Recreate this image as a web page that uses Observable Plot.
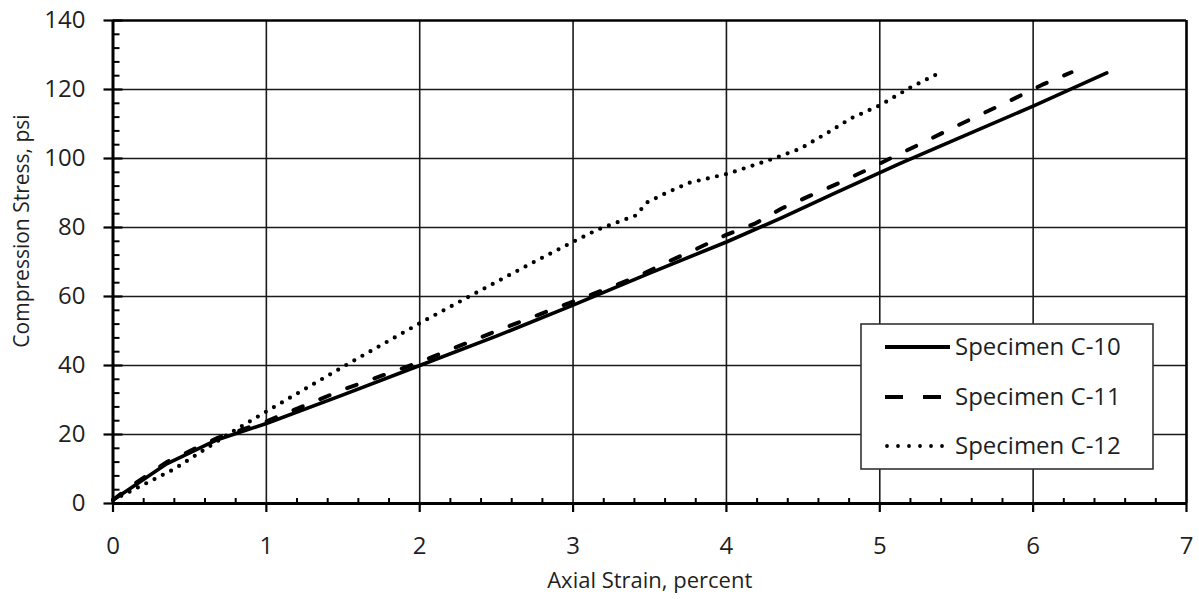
<!DOCTYPE html>
<html>
<head>
<meta charset="utf-8">
<script src="https://cdn.jsdelivr.net/npm/d3@7"></script>
<script src="https://cdn.jsdelivr.net/npm/@observablehq/plot@0.6"></script>
<style>
  html, body { margin: 0; padding: 0; background: white; }
</style>
</head>
<body>
<div id="chart"></div>
<script>
// Series data (axial strain %, compression stress psi)
const c10Strain = [0, 0.1, 0.35, 0.68, 1.0, 1.5, 2.0, 2.5, 3.0, 3.5, 4.0, 4.37, 4.7, 5.13, 5.5, 6.0, 6.48];
const c10Stress = [1, 4, 11.5, 18.5, 23.2, 31.5, 40, 48.5, 57.5, 66.8, 75.8, 83, 89.8, 98.5, 105.6, 115.2, 124.8];

const c11Strain = [0, 0.1, 0.35, 0.68, 1.0, 1.5, 2.0, 2.5, 3.05, 3.24, 3.43, 3.61, 3.81, 3.99, 4.19, 4.36, 4.55, 4.73, 4.92, 5.10, 5.30, 5.48, 5.67, 5.86, 6.06, 6.25];
const c11Stress = [1, 4.5, 12, 19, 23.8, 33, 41, 50, 59.4, 62.6, 66, 69.9, 73.9, 77.7, 81.2, 85.5, 89.3, 92.8, 96.8, 100.7, 105, 109, 113, 117, 121.4, 125];

const c12Strain = [0, 0.4, 0.77, 0.99, 1.29, 1.55, 2.01, 2.31, 2.74, 2.98, 3.16, 3.41, 3.48, 3.61, 3.76, 4.01, 4.27, 4.48, 4.68, 4.81, 5.0, 5.2, 5.38];
const c12Stress = [1, 10, 20.6, 26.4, 34.2, 40.9, 52.5, 59.7, 69.9, 75.4, 79.4, 83.5, 87.2, 90.1, 93, 95.6, 99.4, 102.8, 108, 111.6, 115.4, 120.6, 124.6];

const seriesNames = ["Specimen C-10", "Specimen C-11", "Specimen C-12"];
const xTicks = [0, 1, 2, 3, 4, 5, 6, 7];
const yTicks = [0, 20, 40, 60, 80, 100, 120, 140];
const xMinorTicks = d3.range(0, 35).map(i => i / 5).filter(v => Math.abs(v - Math.round(v)) > 1e-6);
const yMinorTicks = d3.range(0, 141, 4).filter(v => v % 20 !== 0);
const xTitle = "Axial Strain, percent";
const yTitle = "Compression Stress, psi";

const toRows = (name, xs, ys) => xs.map((x, i) => ({name, x, y: ys[i]}));
const c10 = toRows(seriesNames[0], c10Strain, c10Stress);
const c11 = toRows(seriesNames[1], c11Strain, c11Stress);
const c12 = toRows(seriesNames[2], c12Strain, c12Stress);

const FONT = "Open Sans, Liberation Sans, sans-serif";
const INK = "#1f1f1f";

const plot = Plot.plot({
  width: 1199,
  height: 599,
  marginLeft: 112.5,
  marginRight: 13,
  marginTop: 20,
  marginBottom: 96,
  x: {domain: [0, 7], label: null},
  y: {domain: [0, 140], label: null},
  style: {fontFamily: FONT, background: "white", color: INK},
  marks: [
    Plot.gridX(xTicks.slice(1, 7), {stroke: "#1a1a1a", strokeOpacity: 1, strokeWidth: 1.6}),
    Plot.gridY(yTicks.slice(1, 7), {stroke: "#1a1a1a", strokeOpacity: 1, strokeWidth: 1.6}),
    Plot.ruleY([140], {stroke: "black", strokeWidth: 2.6}),
    Plot.ruleX([7], {stroke: "black", strokeWidth: 2.6}),
    Plot.line(c12, {x: "x", y: "y", stroke: "black", strokeWidth: 4.2, strokeDasharray: "0,9.3", strokeLinecap: "round"}),
    Plot.line(c11, {x: "x", y: "y", stroke: "black", strokeWidth: 4, strokeDasharray: "10,19", strokeLinecap: "round"}),
    Plot.line(c10, {x: "x", y: "y", stroke: "black", strokeWidth: 3.6, strokeLinecap: "round"}),
    Plot.ruleX([0], {stroke: "black", strokeWidth: 3}),
    Plot.ruleY([0], {stroke: "black", strokeWidth: 3}),
    Plot.axisY(yTicks, {tickSize: 9, tickFormat: () => "", stroke: "black", strokeWidth: 2.2, label: null}),
    Plot.axisY(yTicks, {tickSize: -10, tickFormat: () => "", stroke: "black", strokeWidth: 2.2, label: null}),
    Plot.axisY(yMinorTicks, {tickSize: -7, tickFormat: () => "", stroke: "black", strokeWidth: 2, label: null}),
    Plot.axisX(xTicks, {tickSize: 9, tickFormat: () => "", stroke: "black", strokeWidth: 2.2, label: null}),
    Plot.axisX(xMinorTicks, {tickSize: -5, tickFormat: () => "", stroke: "black", strokeWidth: 2, label: null}),
    // tick labels
    Plot.text(yTicks, {y: d => d, text: d => String(d), frameAnchor: "left", dx: -27.5, textAnchor: "end", lineAnchor: "middle", fontSize: 24, fill: INK}),
    Plot.text(xTicks, {x: d => d, text: d => String(d), frameAnchor: "bottom", dy: 43, textAnchor: "middle", lineAnchor: "middle", fontSize: 24, fill: INK}),
    // axis titles
    Plot.text([xTitle], {text: d => d, frameAnchor: "bottom", dy: 77, lineAnchor: "middle", textAnchor: "middle", fontSize: 22, fill: INK}),
    Plot.text([yTitle], {text: d => d, frameAnchor: "left", dx: -90.5, dy: -31, rotate: -90, textAnchor: "middle", lineAnchor: "middle", fontSize: 21, fill: INK})
  ]
});

// Legend box inside the plot area (pixel layout, not data)
const svg = d3.select(plot);
const lg = svg.append("g");
lg.append("rect").attr("x", 861).attr("y", 324).attr("width", 292).attr("height", 145)
  .attr("fill", "white").attr("stroke", "#333").attr("stroke-width", 1.6);
const rowsY = [347, 397, 446];
const styles = [
  {dash: null},
  {dash: "18,20", x1: 885, x2: 943},
  {dash: "0,11", x1: 887, x2: 943}
];
seriesNames.forEach((name, i) => {
  const line = lg.append("line")
    .attr("x1", styles[i].x1 || 885).attr("x2", styles[i].x2 || 950)
    .attr("y1", rowsY[i]).attr("y2", rowsY[i])
    .attr("stroke", "black").attr("stroke-width", 3.8);
  if (styles[i].dash) line.attr("stroke-dasharray", styles[i].dash).attr("stroke-linecap", i === 2 ? "round" : "butt");
  lg.append("text").attr("x", 955).attr("y", rowsY[i]).attr("dy", "0.35em")
    .attr("text-anchor", "start")
    .attr("font-size", 24).attr("font-family", FONT).attr("fill", INK).text(name);
});

document.getElementById("chart").appendChild(plot);
</script>
</body>
</html>
